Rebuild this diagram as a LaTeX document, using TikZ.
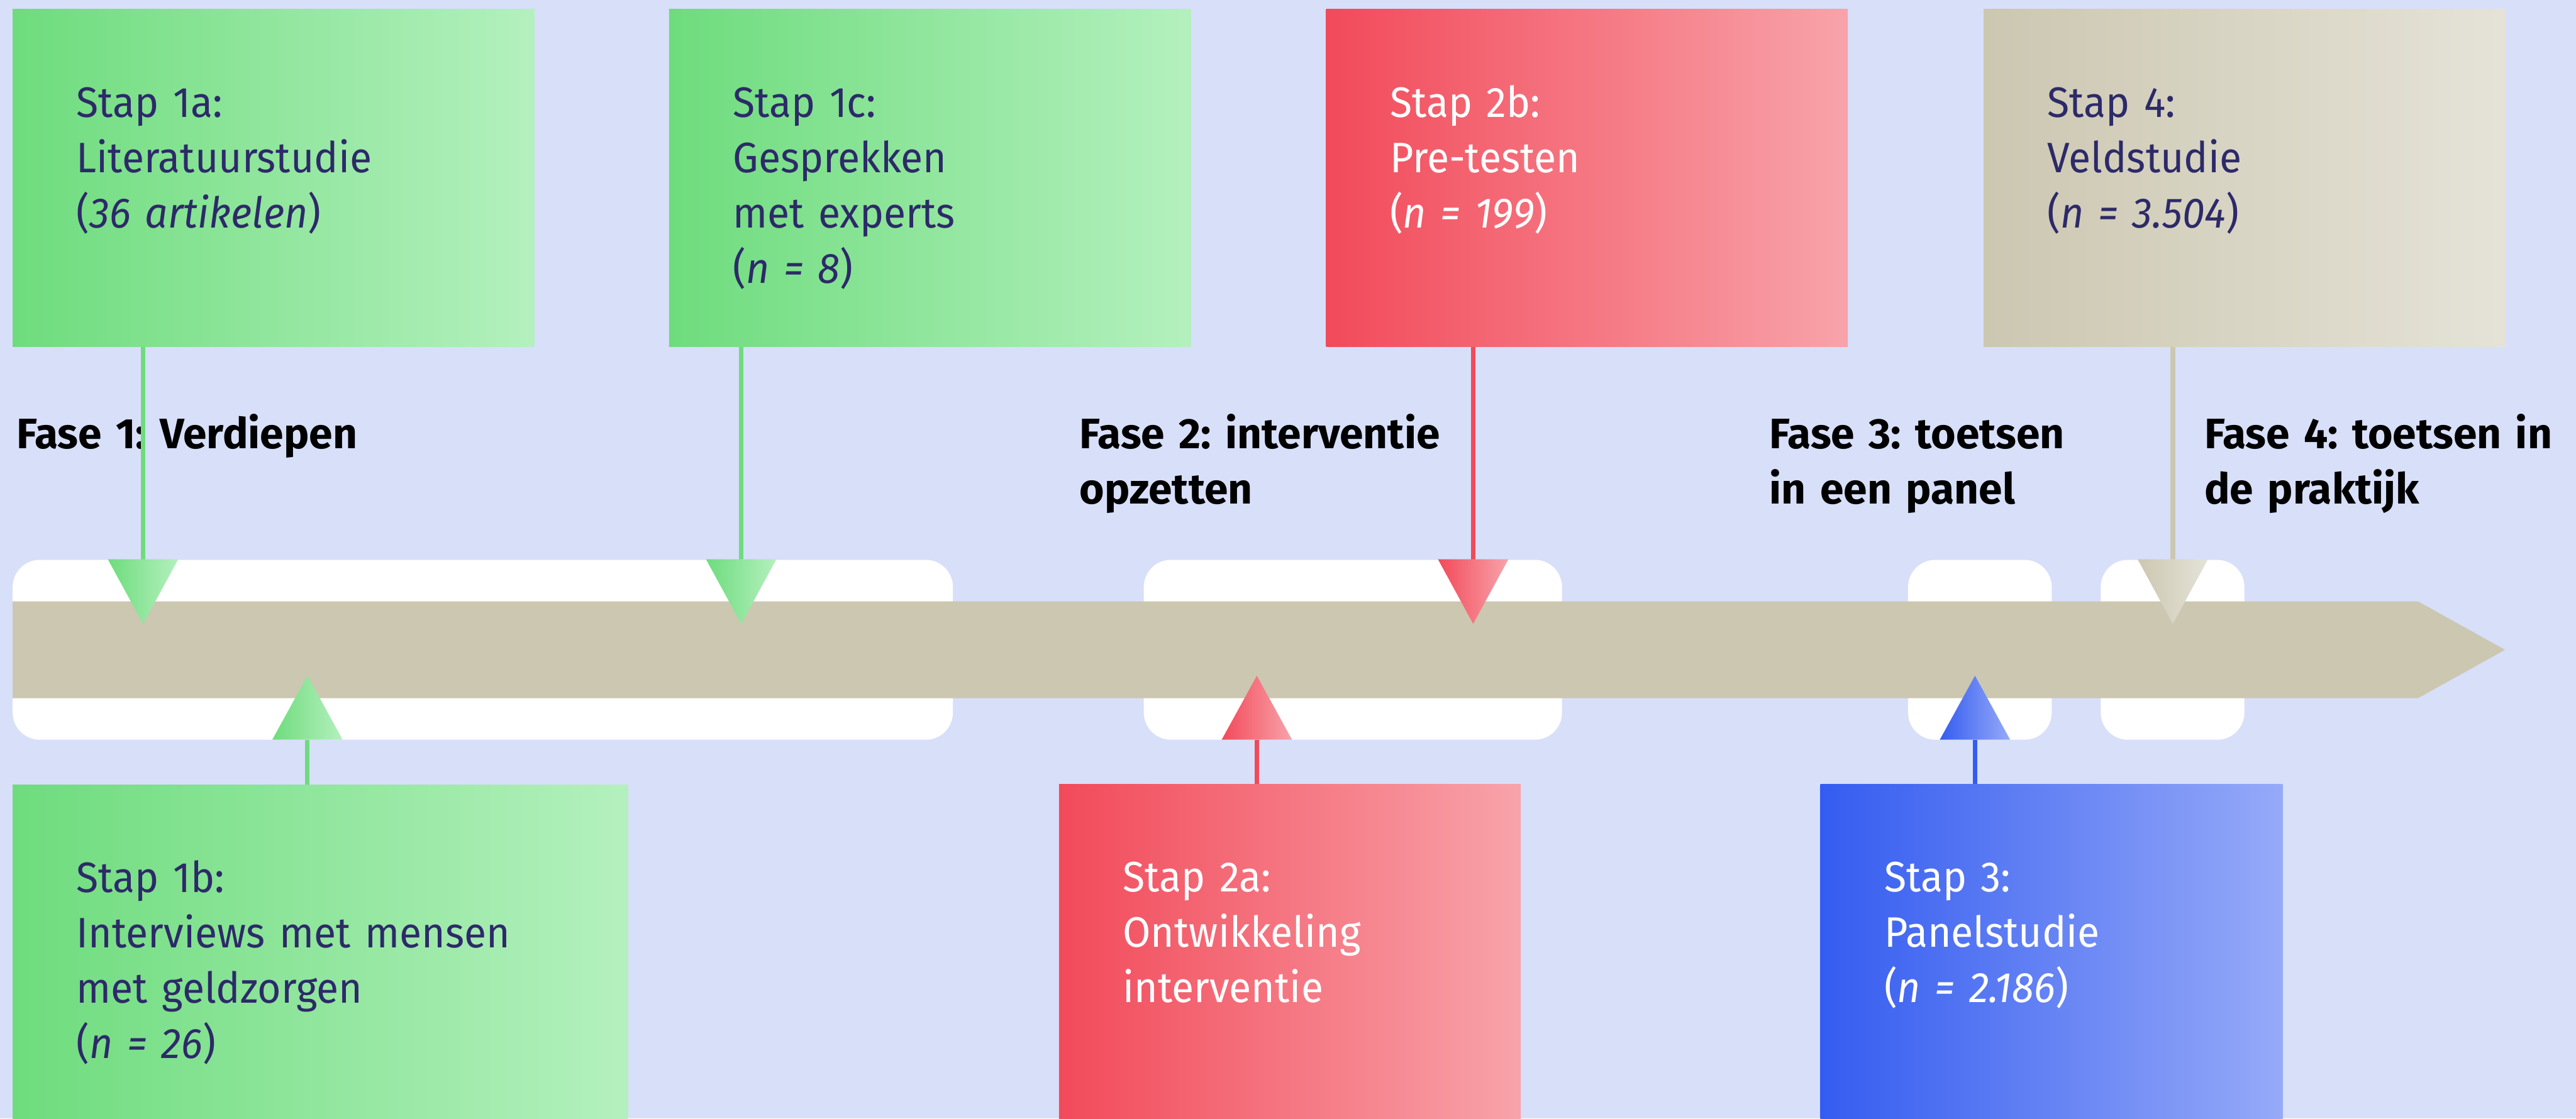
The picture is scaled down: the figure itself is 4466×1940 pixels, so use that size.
\documentclass[tikz,border=0pt]{standalone}
\usepackage{fontspec}
\setmainfont{Fira Sans}[UprightFeatures={FakeStretch=0.95},ItalicFeatures={FakeStretch=0.95}]
\definecolor{bg}{RGB}{216,223,249}
\definecolor{gA}{RGB}{110,220,125}
\definecolor{gB}{RGB}{180,240,190}
\definecolor{rA}{RGB}{242,74,90}
\definecolor{rB}{RGB}{248,163,170}
\definecolor{uA}{RGB}{52,92,240}
\definecolor{uB}{RGB}{150,170,248}
\definecolor{kA}{RGB}{204,199,177}
\definecolor{kB}{RGB}{229,227,216}
\definecolor{navy}{RGB}{45,42,105}
\begin{document}
\frenchspacing
\begin{tikzpicture}[x=0.01cm,y=-0.01cm,
  box/.style={rectangle,inner sep=0pt,outer sep=0pt,anchor=north west,minimum height=5.85cm},
  topbox/.style={box,minimum width=9.04cm},
  txt/.style={anchor=base west,inner sep=0pt,text width=12cm,align=left,text=navy,
    font=\fontsize{21}{27.3}\selectfont},
  wtxt/.style={txt,text=white},
  fase/.style={txt,text=black,font=\fontsize{21}{27.3}\selectfont\bfseries},
  conn/.style={line width=2.2pt},
  pill/.style={fill=white,rounded corners=0.47cm}
]
\useasboundingbox (0,0) rectangle (4466,1940);
\fill[bg] (0,0) rectangle (4466,1940);

% boxes
\node[topbox,left color=gA,right color=gB] (b1a) at (22,16) {};
\node[topbox,left color=gA,right color=gB] (b1c) at (1160,16) {};
\node[topbox,left color=rA,right color=rB] (b2b) at (2299,16) {};
\node[topbox,left color=kA,right color=kB] (b4) at (3439,16) {};
\node[box,minimum width=10.66cm,minimum height=5.79cm,left color=gA,right color=gB] (b1b) at (22,1361) {};
\node[box,minimum width=8.0cm,minimum height=5.8cm,left color=rA,right color=rB] (b2a) at (1836,1360) {};
\node[box,minimum width=8.01cm,minimum height=5.8cm,left color=uA,right color=uB] (b3) at (3156,1360) {};

% box texts
\node[txt] (t1a) at (132,203) {Stap 1a:\\Literatuurstudie\\(\textit{36 artikelen})};
\node[txt] (t1c) at (1270,203) {Stap 1c:\\Gesprekken\\met experts\\(\textit{n = 8})};
\node[wtxt] (t2b) at (2409,203) {Stap 2b:\\Pre-testen\\(\textit{n = 199})};
\node[txt] (t4) at (3549,203) {Stap 4:\\Veldstudie\\(\textit{n = 3.504})};
\node[txt] (t1b) at (132,1548) {Stap 1b:\\Interviews met mensen\\met geldzorgen\\(\textit{n = 26})};
\node[wtxt] (t2a) at (1946,1547) {Stap 2a:\\Ontwikkeling\\interventie};
\node[wtxt] (t3) at (3266,1547) {Stap 3:\\Panelstudie\\(\textit{n = 2.186})};

% phase labels
\node[fase] (f1) at (28,778) {Fase 1: Verdiepen};
\node[fase] (f2) at (1871,778) {Fase 2: interventie\\opzetten};
\node[fase] (f3) at (3067,778) {Fase 3: toetsen\\in een panel};
\node[fase] (f4) at (3821,778) {Fase 4: toetsen in\\de praktijk};

% arrow tips (triangle bases)
\coordinate (a1a) at (248,970);
\coordinate (a1c) at (1285,970);
\coordinate (a2b) at (2554,970);
\coordinate (a4) at (3767,970);
\coordinate (a1b) at (533,1283);
\coordinate (a2a) at (2179,1283);
\coordinate (a3) at (3424,1283);

% connectors
\draw[conn,gA] (b1a.south -| a1a) -- (a1a);
\draw[conn,gA] (b1c.south -| a1c) -- (a1c);
\draw[conn,rA] (b2b.south -| a2b) -- (a2b);
\draw[conn,kA] (b4.south -| a4) -- (a4);
\draw[conn,gA] (b1b.north -| a1b) -- (a1b);
\draw[conn,rA] (b2a.north -| a2a) -- (a2a);
\draw[conn,uA] (b3.north -| a3) -- (a3);

% white phase pills
\fill[pill] (22,971) rectangle (1652,1283);
\fill[pill] (1983,971) rectangle (2708,1283);
\fill[pill] (3308,971) rectangle (3557,1283);
\fill[pill] (3642,971) rectangle (3891,1283);

% timeline band
\fill[kA] (22,1043) -- (4192,1043) -- (4343,1127) -- (4192,1211) -- (22,1211) -- cycle;

% triangles
\shade[left color=gA,right color=gB] (a1a) ++(-61,0) -- ++(122,0) -- ++(-61,112) -- cycle;
\shade[left color=gA,right color=gB] (a1c) ++(-61,0) -- ++(122,0) -- ++(-61,112) -- cycle;
\shade[left color=rA,right color=rB] (a2b) ++(-61,0) -- ++(122,0) -- ++(-61,112) -- cycle;
\shade[left color=kA,right color=kB] (a4) ++(-61,0) -- ++(122,0) -- ++(-61,112) -- cycle;
\shade[left color=gA,right color=gB] (a1b) ++(-61,0) -- ++(122,0) -- ++(-61,-111) -- cycle;
\shade[left color=rA,right color=rB] (a2a) ++(-61,0) -- ++(122,0) -- ++(-61,-111) -- cycle;
\shade[left color=uA,right color=uB] (a3) ++(-61,0) -- ++(122,0) -- ++(-61,-111) -- cycle;
\end{tikzpicture}
\end{document}
